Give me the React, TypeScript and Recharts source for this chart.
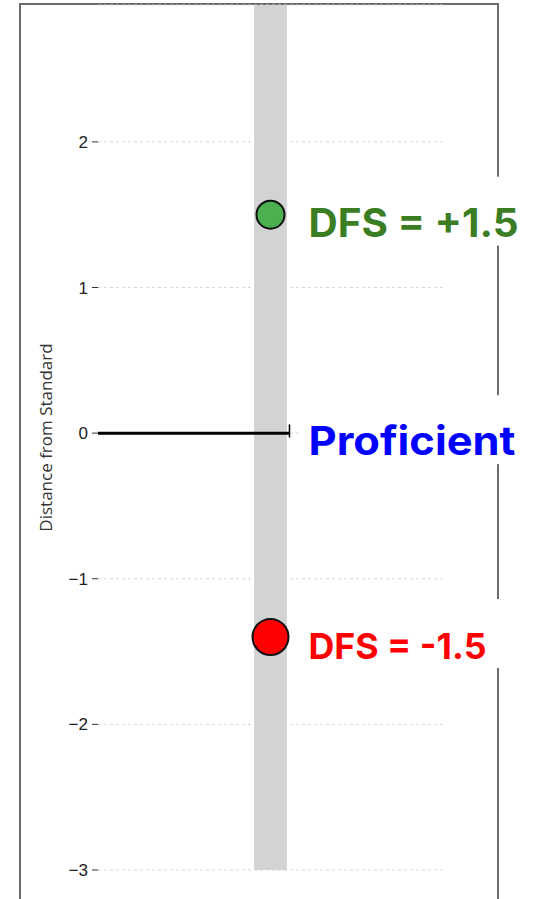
import React from 'react';
import {
  ComposedChart,
  Scatter,
  XAxis,
  YAxis,
  CartesianGrid,
  ReferenceArea,
  ReferenceLine,
} from 'recharts';

// one school-level result and one student-level result against the standard
const yTicks = [-3, -2, -1, 0, 1, 2];
const highPoint = [{ x: 1, y: 1.5 }];
const lowPoint = [{ x: 1, y: -1.4 }];
const labelPoints = [
  { x: 1, y: 1.5, text: 'DFS = +1.5', color: '#3b7d23', size: 39, w: 210 },
  { x: 1, y: 0, text: 'Proficient', color: '#0000ff', size: 40, w: 207 },
  { x: 1, y: -1.4, text: 'DFS = -1.5', color: '#ff0000', size: 36, w: 178 },
];
const bandRange = [0.905, 1.095];
const standardEnd = 1.11;

const fmtTick = (v: number) => String(v).replace('-', '\u2212');

const YLabel = (props: any) => {
  const { viewBox } = props;
  const cy = viewBox.y + viewBox.height / 2;
  // roughly centred on the 0 tick
  return (
    <text
      x={45}
      y={cy}
      transform={`rotate(-90 45 ${cy})`}
      textAnchor="middle"
      dominantBaseline="central"
      fontSize={17}
      fill="#333"
      fontFamily="'Open Sans', sans-serif"
    >
      Distance from Standard
    </text>
  );
};

const Dot = (fill: string, r: number) => (props: any) => (
  <circle cx={props.cx} cy={props.cy} r={r} fill={fill} stroke="#111" strokeWidth={2} />
);

const TagShape = (props: any) => {
  const { cx, cy, payload } = props;
  return (
    <g>
      <rect x={cx + 30} y={cy - 38} width={226} height={69} fill="#fff" />
      <text
        x={cx + 38}
        y={cy + 22}
        fill={payload.color}
        fontSize={payload.size}
        fontWeight={700}
        fontFamily="Inter, sans-serif"
        textLength={payload.w}
        lengthAdjust="spacingAndGlyphs"
      >
        {payload.text}
      </text>
    </g>
  );
};

export default function App() {
  return (
    <div style={{ position: 'absolute', left: 0, top: 0, width: 534, height: 899, overflow: 'hidden', background: '#fff' }}>
      <div
        style={{
          position: 'absolute',
          left: 19,
          top: 3,
          width: 480,
          height: 920,
          border: '2px solid #6b6b6b',
          boxSizing: 'border-box',
        }}
      />
      <div style={{ position: 'absolute', left: 0, top: 0 }}>
        <ComposedChart width={534} height={899} margin={{ top: 5, right: 91, bottom: 29, left: 0 }}>
          <CartesianGrid vertical={false} stroke="#d8d8d8" strokeDasharray="3 3" />
          <XAxis type="number" dataKey="x" domain={[0, 2]} hide />
          <YAxis
            type="number"
            dataKey="y"
            domain={[-3, 2.94]}
            ticks={yTicks}
            allowDataOverflow
            width={98}
            axisLine={false}
            tickSize={6}
            tickMargin={4}
            tickLine={{ stroke: '#333' }}
            tick={{ fontSize: 17, fill: '#222', fontFamily: "'Liberation Sans', Arial, sans-serif" }}
            tickFormatter={fmtTick}
            label={<YLabel />}
          />
          <ReferenceArea
            x1={bandRange[0]}
            x2={bandRange[1]}
            y1={-3}
            y2={2.94}
            fill="#d3d3d3"
            fillOpacity={1}
            stroke="none"
            ifOverflow="hidden"
          />
          <ReferenceLine
            segment={[{ x: 0, y: 0 }, { x: standardEnd, y: 0 }]}
            stroke="#000"
            strokeWidth={3}
          />
          <ReferenceLine
            segment={[{ x: standardEnd, y: -0.03 }, { x: standardEnd, y: 0.06 }]}
            stroke="#000"
            strokeWidth={1.5}
          />
          <Scatter data={labelPoints} shape={TagShape} isAnimationActive={false} />
          <Scatter data={highPoint} shape={Dot('#4caf50', 14)} isAnimationActive={false} />
          <Scatter data={lowPoint} shape={Dot('#ff0000', 18)} isAnimationActive={false} />
        </ComposedChart>
      </div>
    </div>
  );
}
